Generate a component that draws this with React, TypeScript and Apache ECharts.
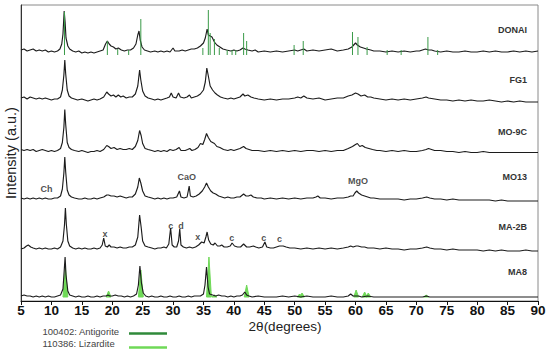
import React, { useEffect, useRef } from "react";
import * as echarts from "echarts";

// ---------- data (2θ in degrees, height in px-units above each trace's baseline) ----------
const sampleNames = ["DONAI", "FG1", "MO-9C", "MO13", "MA-2B", "MA8"];
const baselines = [249, 201, 149.5, 102, 52, 4];

const donai: number[][] = [[5,2],[5.5,3],[6,1],[6.5,2],[7,3],[7.5,1],[8,2],[8.5,1],[9,2],[9.5,0],[10,1],[10.5,0],[11,1],[11.4,3],[11.7,8],[11.9,18],[12.1,41],[12.25,30],[12.4,14],[12.7,6],[13,3],[13.5,1],[14,0],[14.5,1],[15,-1],[15.5,0],[16,-1],[16.5,0],[17,-1],[17.5,0],[18,1],[18.5,2],[18.9,8],[19.2,11],[19.5,8],[19.8,6],[20.2,5],[20.6,3],[21,4],[21.5,2],[22,1],[22.5,2],[23,2],[23.5,4],[23.9,8],[24.2,17],[24.4,21],[24.6,12],[24.9,5],[25.3,2],[25.8,1],[26.3,0],[27,1],[27.5,0],[28,1],[28.5,0],[29,1],[29.5,0],[30,4],[30.3,1],[31,1],[31.5,2],[32,1],[32.5,2],[33,3],[33.5,3],[34,4],[34.5,6],[35,9],[35.3,14],[35.6,23],[35.8,17],[36.1,16],[36.4,15],[36.8,10],[37.2,7],[37.7,5],[38.2,3],[38.8,2],[39.5,1],[40,2],[40.5,1],[41,2],[41.5,4],[41.8,3],[42.3,2],[43,1],[43.5,2],[44,0],[45,1],[46,0],[47,1],[48,0],[49,1],[50,2],[50.5,1],[51,2],[51.5,3],[52,1],[53,2],[54,1],[55,2],[56,3],[57,1],[58,2],[58.8,3],[59.4,5],[60,9],[60.3,7],[60.8,5],[61.3,4],[61.8,3],[62.5,2],[63,1],[64,1],[65,0],[66,1],[67,0],[68,1],[69,0],[70,1],[70.5,1],[71,2],[71.5,3],[72,2],[72.5,2],[73,1],[74,0],[75,1],[76,0],[77,0],[78,1],[79,0],[80,0],[81,1],[82,0],[83,1],[84,0],[85,0],[86,1],[87,0],[88,1],[89,0],[90,1]];

const fg1: number[][] = [[5,2],[5.5,3],[6,1],[6.5,3],[7,2],[7.5,1],[8,2],[8.5,1],[9,2],[9.5,1],[10,0],[10.5,1],[11,1],[11.5,3],[11.8,10],[12.05,25],[12.2,40],[12.35,26],[12.6,10],[12.9,4],[13.3,2],[13.8,1],[14.3,0],[15,1],[15.5,0],[16,-1],[16.5,0],[17,1],[17.5,0],[18,1],[18.6,3],[19.1,8],[19.4,6],[19.8,4],[20.2,5],[20.6,3],[21,5],[21.4,3],[21.8,4],[22.3,2],[22.8,3],[23.3,3],[23.8,6],[24.2,14],[24.5,30],[24.7,20],[25,9],[25.4,4],[25.9,2],[26.5,1],[27,0],[27.5,1],[28,0],[28.5,1],[29,2],[29.4,3],[29.7,7],[30,3],[30.5,2],[30.9,7],[31.2,3],[31.8,2],[32.3,3],[32.7,5],[33,2],[33.5,3],[34,4],[34.5,6],[35,10],[35.3,18],[35.55,32],[35.8,24],[36.1,14],[36.5,10],[36.9,7],[37.3,5],[37.8,3],[38.3,2],[39,1],[39.5,2],[40,1],[40.5,2],[41,3],[41.5,6],[41.8,4],[42.3,5],[42.8,3],[43.3,2],[44,1],[45,0],[46,1],[47,0],[48,1],[49,1],[50,2],[50.5,3],[51,2],[51.5,4],[52,2],[53,1],[54,2],[55,0],[56,1],[57,2],[58,2],[58.8,4],[59.4,5],[60,7],[60.4,6],[60.9,4],[61.5,5],[62,3],[62.5,3],[63,2],[64,1],[65,0],[66,1],[67,0],[68,1],[69,0],[70,1],[71,2],[71.6,3],[72,2],[73,1],[74,0],[75,0],[76,-1],[77,0],[78,-1],[79,0],[80,-1],[81,-1],[82,0],[83,-1],[84,-2],[85,-1],[86,-2],[87,-1],[88,-2],[89,-2],[90,-2]];

const mo9c: number[][] = [[5,2],[5.5,1],[6,2],[6.5,1],[7,2],[7.5,0],[8,1],[8.5,2],[9,1],[9.5,0],[10,1],[10.5,0],[11,1],[11.5,3],[11.8,9],[12.05,24],[12.2,42],[12.35,27],[12.6,9],[12.9,4],[13.3,2],[13.8,1],[14.5,0],[15,1],[15.5,0],[16,-1],[16.5,0],[17,0],[17.5,1],[18,0],[18.6,2],[19.1,6],[19.4,5],[19.8,3],[20.3,4],[20.8,2],[21.3,3],[21.8,2],[22.3,2],[22.8,3],[23.3,2],[23.8,5],[24.2,11],[24.5,21],[24.75,16],[25,8],[25.4,3],[25.9,2],[26.5,1],[27,0],[27.5,1],[28,0],[28.5,1],[29,0],[29.5,2],[30,1],[30.5,2],[31,4],[31.3,1],[32,1],[32.4,2],[32.75,3],[33.1,1],[33.6,2],[34.1,4],[34.5,8],[34.9,7],[35.2,12],[35.5,18],[35.8,14],[36.2,10],[36.8,8],[37.2,5],[37.7,4],[38.3,2],[39,1],[39.5,2],[40,1],[40.5,2],[41,3],[41.6,5],[42,3],[42.5,2],[43,1],[44,1],[45,0],[46,1],[47,0],[48,1],[49,0],[50,1],[51,0],[52,1],[53,1],[54,0],[55,1],[56,0],[57,1],[58,1],[58.8,3],[59.5,5],[60,7],[60.3,8],[60.7,5],[61.1,6],[61.6,4],[62.2,3],[62.8,2],[63.5,1],[64,1],[65,0],[66,1],[67,0],[68,1],[69,0],[70,0],[71,1],[71.6,2],[72,3],[72.5,2],[73,1],[74,1],[75,0],[76,0],[77,-1],[78,0],[79,-1],[80,-1],[81,0],[82,-1],[83,-1],[84,-1],[85,-1],[86,-1],[87,-1],[88,-1],[89,-1],[90,-1]];

const mo13: number[][] = [[5,1],[5.5,0],[6,1],[6.5,0],[7,1],[7.5,0],[8,1],[8.5,0],[9,1],[9.5,0],[10,0],[10.5,1],[11,1],[11.5,3],[11.8,10],[12.05,26],[12.2,42],[12.35,27],[12.6,9],[12.9,4],[13.3,2],[13.8,1],[14.5,0],[15,0],[15.5,1],[16,0],[16.5,0],[17,1],[17.5,0],[18,1],[18.6,2],[19.1,4],[19.4,4],[19.8,3],[20.3,3],[20.8,2],[21.3,3],[21.8,2],[22.3,1],[22.8,2],[23.3,2],[23.8,5],[24.2,12],[24.45,21],[24.7,16],[25,8],[25.4,3],[25.9,2],[26.5,1],[27,0],[27.5,1],[28,0],[28.5,1],[29,0],[29.5,1],[30,1],[30.6,2],[30.9,6],[31.05,8],[31.3,2],[31.8,1],[32.3,2],[32.5,8],[32.65,13],[32.85,3],[33.3,2],[33.8,3],[34.3,5],[34.8,8],[35.2,12],[35.5,16],[35.8,12],[36.2,8],[36.6,6],[37,5],[37.5,3],[38,2],[38.5,1],[39,2],[39.5,1],[40,1],[40.5,2],[41,2],[41.6,5],[42,3],[42.4,3],[42.8,4],[43.2,2],[43.8,1],[44.5,1],[45,0],[46,1],[47,0],[48,1],[49,0],[50,1],[51,0],[52,1],[53,1],[53.5,2],[53.8,3],[54.2,1],[55,1],[56,0],[57,1],[58,1],[58.8,2],[59.2,3],[59.6,3],[59.9,6],[60.2,8],[60.5,6],[61,4],[61.5,3],[62,2],[62.5,1],[63,1],[64,0],[65,0],[66,0],[67,0],[68,-1],[69,0],[70,0],[71,1],[71.7,2],[72.2,1],[73,0],[74,0],[75,-1],[76,0],[77,-1],[78,-1],[79,-1],[80,-1],[81,-1],[82,-1],[83,-2],[84,-1],[85,-2],[86,-2],[87,-2],[88,-2],[89,-2],[90,-2]];

const ma2b: number[][] = [[5,0],[5.5,1],[5.9,3],[6.2,4],[6.6,2],[7,1],[7.5,0],[8,1],[8.5,0],[9,1],[9.5,0],[10,0],[10.5,1],[11,0],[11.5,2],[11.9,8],[12.15,24],[12.3,41],[12.45,25],[12.7,8],[13,3],[13.5,1],[14,0],[14.5,1],[15,0],[15.5,1],[16,0],[16.5,0],[17,1],[17.5,0],[18,1],[18.35,4],[18.6,11],[18.85,3],[19.2,2],[19.5,4],[19.8,2],[20.3,2],[20.8,1],[21.3,2],[21.8,1],[22.3,1],[22.8,2],[23.3,2],[23.8,4],[24.2,12],[24.5,34],[24.75,22],[25,8],[25.4,3],[25.9,2],[26.5,1],[27,0],[27.5,1],[28,1],[28.5,2],[28.9,1],[29.3,5],[29.6,21],[29.85,4],[30.2,2],[30.6,2],[30.9,8],[31.1,20],[31.3,4],[31.7,2],[32.2,1],[32.7,2],[33.2,1],[33.7,2],[34.2,4],[34.7,7],[35.1,6],[35.4,12],[35.6,17],[35.85,9],[36.2,5],[36.6,4],[36.9,6],[37.3,3],[37.7,3],[38,4],[38.4,2],[38.9,2],[39.4,3],[39.7,6],[40.1,3],[40.6,2],[41.1,2],[41.6,5],[42.1,2],[42.6,2],[43.2,3],[43.6,2],[44.1,1],[44.7,2],[45.1,7],[45.4,2],[46,1],[46.5,1],[47,2],[47.5,3],[48.1,3],[48.6,2],[49.2,1],[50,1],[51,0],[52,1],[53,0],[54,1],[55,0],[56,1],[57,0],[58,1],[58.8,2],[59.2,3],[59.6,2],[60.1,3],[60.4,3],[61,2],[61.5,2],[62,1],[63,1],[64,0],[65,1],[66,0],[67,0],[68,-1],[69,0],[70,0],[71,1],[71.7,2],[72.2,1],[73,0],[74,0],[75,-1],[76,0],[77,-1],[78,-1],[79,-1],[80,-1],[81,-2],[82,-1],[83,-2],[84,-1],[85,-2],[86,-2],[87,-2],[88,-1],[89,-2],[90,-2]];

const ma8: number[][] = [[5,1],[5.5,2],[6,1],[6.5,1],[7,0],[7.5,1],[8,0],[8.5,1],[9,0],[9.5,1],[10,0],[10.5,0],[11,1],[11.5,2],[11.9,8],[12.1,26],[12.25,40],[12.4,22],[12.7,6],[13,2],[13.5,1],[14,0],[14.5,1],[15,0],[15.5,0],[16,1],[16.5,0],[17,0],[17.5,1],[18,0],[18.5,1],[19,1],[19.3,2],[19.6,1],[20,1],[20.5,2],[21,1],[21.5,1],[22,0],[22.5,1],[23,0],[23.5,1],[24,3],[24.3,12],[24.55,31],[24.8,14],[25.1,4],[25.5,1],[26,0],[26.5,1],[27,0],[27.5,0],[28,1],[28.5,0],[29,0],[29.5,1],[30,0],[30.5,0],[31,1],[31.5,0],[32,0],[32.5,1],[33,0],[33.5,1],[34,1],[34.5,1],[35,3],[35.25,12],[35.5,30],[35.75,10],[36,3],[36.5,2],[37,1],[37.5,2],[38,1],[38.5,1],[39,0],[39.5,1],[40,0],[40.5,1],[41,1],[41.4,2],[41.8,5],[42.1,2],[42.5,1],[43,0],[44,1],[45,0],[46,0],[47,0],[48,1],[49,0],[50,1],[51,0],[52,1],[53,0],[54,0],[55,0],[56,1],[57,0],[58,0],[58.8,1],[59.2,3],[59.6,1],[60,1],[60.5,1],[61,0],[62,1],[63,0],[64,0],[65,0],[66,0],[67,0],[68,0],[69,0],[70,0],[71,0],[71.7,1],[72.2,0],[73,0],[74,0],[75,0],[76,0],[77,0],[78,0],[79,0],[80,0],[81,0],[82,0],[83,0],[84,0],[85,0],[86,0],[87,0],[88,0],[89,0],[90,0]];

// Reference stick pattern over DONAI (Antigorite): [2θ, height]
const antigoriteSticks: number[][] = [[12.15,40],[19.2,11],[20.9,3],[22.7,2],[24.7,33],[34.9,4],[35.8,42],[36.1,19],[36.8,13],[37.6,4],[38.9,2],[39.7,2],[40.3,2],[41.6,19],[42.1,11],[49.9,7],[51.4,11],[59.5,20],[60.4,15],[61.9,5],[65.2,2],[67.5,2],[71.9,15],[73.5,2]];
// Reference profile over MA8 (Lizardite): [2θ, height]
const lizarditePeaks: number[][] = [[12.3,29],[19.4,6],[24.7,27],[35.9,40],[36.8,2],[42.1,12],[50.8,3],[51.2,4],[60.1,7],[61.5,5],[62.1,4],[71.6,2]];

// Phase annotations: [2θ, absolute height, text]
const annotations: (number | string)[][] = [
  [9.2, 112, "Ch"], [32.25, 124, "CaO"], [60.4, 120, "MgO"],
  [18.8, 67, "x"], [29.6, 75, "c"], [31.3, 75, "d"], [34.05, 64, "x"],
  [39.65, 63, "c"], [44.9, 63, "c"], [47.5, 62, "c"],
];

const xTicks = { min: 5, max: 90, interval: 5 };
const legendNames = ["100402: Antigorite", "110386: Lizardite"];

const traces = [donai, fg1, mo9c, mo13, ma2b, ma8];
const DARK_GREEN = "#2f8a3a";
const STICK_GREEN = "#3a9a48";
const LIGHT_GREEN = "#6fd957";
const FONT = "Liberation Sans, Arial, sans-serif";

export default function App() {
  const ref = useRef<HTMLDivElement>(null);
  useEffect(() => {
    if (!ref.current) return;
    const chart = echarts.init(ref.current, undefined, { renderer: "svg" });

    const lineSeries = traces.map((pts, i) => ({
      type: "line",
      name: sampleNames[i],
      data: pts.map(([x, h]) => [x, h + baselines[i]]),
      symbol: "none",
      lineStyle: { color: "#1c1c1c", width: 1.15 },
      z: 3,
    }));

    const donaiBase = baselines[0];
    const stickSeries = {
      type: "custom",
      data: antigoriteSticks.map(([x, h]) => [x, donaiBase - 3, donaiBase + h]),
      encode: { x: 0, y: [1, 2] },
      z: 4,
      renderItem: (_p: any, api: any) => {
        const a = api.coord([api.value(0), api.value(1)]);
        const b = api.coord([api.value(0), api.value(2)]);
        return {
          type: "line",
          shape: { x1: a[0], y1: a[1], x2: b[0], y2: b[1] },
          style: { stroke: STICK_GREEN, lineWidth: 1 },
        };
      },
    };

    const ma8Base = baselines[5];
    const lizSeries = {
      type: "custom",
      data: lizarditePeaks.map(([x, h]) => [x, ma8Base, ma8Base + h]),
      encode: { x: 0, y: [1, 2] },
      z: 2,
      renderItem: (_p: any, api: any) => {
        const x = api.value(0);
        const l = api.coord([x - 0.4, api.value(1)]);
        const t = api.coord([x, api.value(2)]);
        const r = api.coord([x + 0.4, api.value(1)]);
        return {
          type: "polygon",
          shape: { points: [l, t, r] },
          style: { fill: LIGHT_GREEN, stroke: LIGHT_GREEN, lineWidth: 1 },
        };
      },
    };

    const annSeries = {
      type: "scatter",
      data: annotations,
      encode: { x: 0, y: 1 },
      symbolSize: 1,
      itemStyle: { color: "rgba(0,0,0,0)" },
      z: 5,
      label: {
        show: true,
        position: "inside",
        formatter: (p: any) => p.value[2],
        fontFamily: FONT,
        fontSize: 9,
        fontWeight: "bold",
        color: "#222",
      },
    };

    const labelY = [30, 80, 131.5, 176.5, 227, 272];
    const sampleLabels = sampleNames.map((n, i) => ({
      type: "text",
      x: 527,
      y: labelY[i],
      style: {
        text: n, fill: "#333", font: `bold 9px ${FONT}`,
        textAlign: "right", textVerticalAlign: "middle",
      },
    }));

    chart.setOption({
      animation: false,
      grid: { left: 21, right: 12, top: 5, bottom: 55, show: true, borderColor: "#8a8a8a", borderWidth: 1 },
      xAxis: {
        type: "value",
        min: xTicks.min, max: xTicks.max, interval: xTicks.interval,
        axisLine: { show: true, onZero: false, lineStyle: { color: "#111", width: 1 } },
        axisTick: { show: true, inside: false, length: 4, lineStyle: { color: "#111" } },
        axisLabel: { color: "#111", fontFamily: FONT, fontSize: 13.5, fontWeight: "bold", margin: 2 },
        splitLine: { show: false },
      },
      yAxis: {
        type: "value", min: 0, max: 296,
        axisLine: { show: true, lineStyle: { color: "#333" } },
        axisTick: { show: false }, axisLabel: { show: false }, splitLine: { show: false },
      },
      series: [lizSeries, ...lineSeries, stickSeries, annSeries],
      graphic: [
        ...sampleLabels,
        {
          type: "text", x: 285, y: 326.5,
          style: { text: "2θ(degrees)", fill: "#222", font: `13.5px ${FONT}`, textAlign: "center", textVerticalAlign: "middle" },
        },
        {
          type: "text", x: 11, y: 153, rotation: Math.PI / 2,
          style: { text: "Intensity (a.u.)", fill: "#222", font: `14.5px ${FONT}`, textAlign: "center", textVerticalAlign: "middle" },
        },
        {
          type: "text", x: 42.5, y: 331,
          style: { text: legendNames[0], fill: "#444", font: `9.5px ${FONT}`, textAlign: "left", textVerticalAlign: "middle" },
        },
        {
          type: "text", x: 42.5, y: 343,
          style: { text: legendNames[1], fill: "#444", font: `9.5px ${FONT}`, textAlign: "left", textVerticalAlign: "middle" },
        },
        { type: "line", shape: { x1: 129, y1: 333.5, x2: 167, y2: 333.5 }, style: { stroke: DARK_GREEN, lineWidth: 2.5 } },
        { type: "line", shape: { x1: 129, y1: 347.5, x2: 167, y2: 347.5 }, style: { stroke: LIGHT_GREEN, lineWidth: 2.5 } },
      ],
    });
    return () => chart.dispose();
  }, []);
  return <div ref={ref} style={{ width: 550, height: 356, position: "absolute", left: 0, top: 0 }} />;
}
